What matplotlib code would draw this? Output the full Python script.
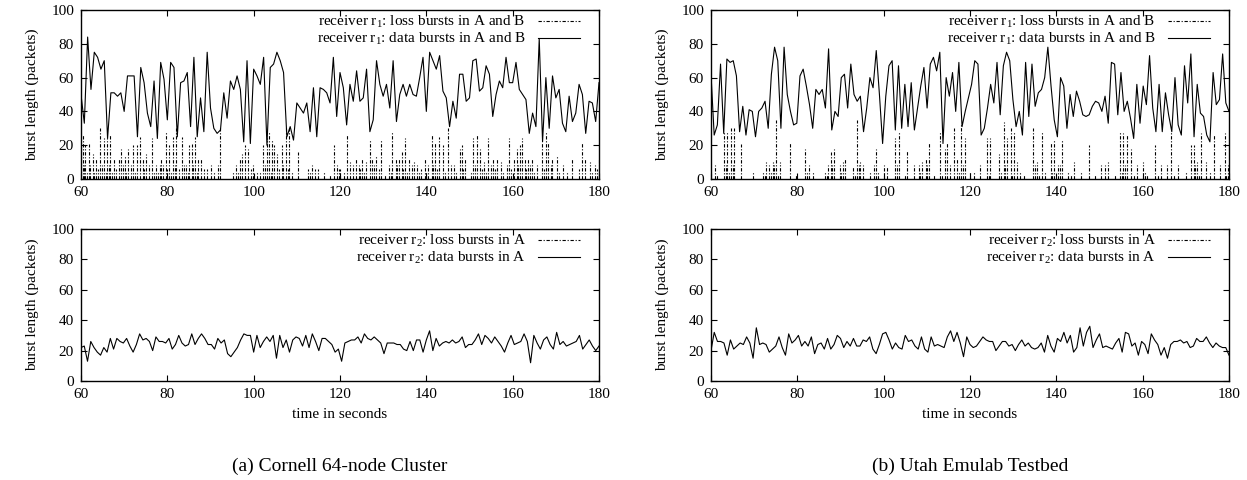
import matplotlib
matplotlib.use('Agg')
import matplotlib.pyplot as plt
import numpy as np
from matplotlib.lines import Line2D

plt.rcParams['font.family'] = ['Liberation Serif', 'DejaVu Serif']
plt.rcParams['mathtext.fontset'] = 'custom'
plt.rcParams['mathtext.rm'] = 'Liberation Serif'
plt.rcParams['mathtext.it'] = 'Liberation Serif:italic'

# ---------------- data ----------------
T_START, T_END = 60, 180

# (a) Cornell, receiver r1 data bursts (A and B)
cornell_r1_data = [
    50, 33, 84, 53, 75, 72, 65, 70, 24, 51, 51, 49, 51, 40, 61, 61, 61, 25, 66, 57,
    39, 31, 58, 24, 69, 59, 35, 69, 66, 25, 57, 58, 63, 31, 72, 25, 48, 28, 75, 42,
    30, 27, 29, 51, 36, 58, 53, 61, 53, 22, 70, 21, 65, 61, 56, 72, 20, 66, 68, 75,
    70, 63, 25, 31, 23, 45, 42, 39, 45, 28, 54, 25, 54, 53, 51, 45, 72, 37, 63, 54,
    32, 56, 46, 64, 46, 48, 65, 28, 35, 70, 56, 49, 56, 42, 70, 34, 50, 56, 49,
    56, 50, 49, 60, 72, 40, 75, 70, 65, 73, 52, 48, 31, 46, 36, 62, 62, 46, 48, 70,
    71, 52, 54, 67, 62, 37, 50, 58, 54, 72, 57, 57, 69, 53, 50, 47, 27, 39, 31, 83,
    22, 60, 30, 61, 48, 53, 33, 28, 49, 34, 39, 56, 50, 27, 46, 45, 34, 57]

# (a) Cornell, receiver r1 loss bursts (time, length)
cornell_r1_loss_t = [
    60.4, 61.0, 61.8, 62.7, 63.5, 64.5, 65.3, 66.0, 66.8, 67.6, 68.7, 69.3, 70.1, 70.9,
    72.0, 73.0, 73.6, 74.3, 75.1, 76.5, 77.4, 78.2, 78.6, 79.6, 80.4, 81.2, 82.1, 83.3,
    84.4, 85.0, 85.7, 86.4, 87.1, 87.8, 89.2, 90.2, 91.8, 92.2, 95.3, 96.0, 96.8, 97.4,
    98.0, 98.8, 99.9, 100.7, 102.2, 103.0, 103.5, 104.2, 104.6, 105.3, 106.5, 107.5,
    108.3, 110.2, 112.7, 113.5, 114.3, 115.0, 116.2, 118.5, 119.3, 120.0, 121.6, 122.4,
    123.6, 124.3, 125.1, 126.1, 126.9, 127.4, 128.4, 129.4, 131.3, 132.1, 132.9, 133.6,
    134.4, 135.0, 136.0, 137.1, 137.9, 138.8, 139.6, 140.4, 141.2, 142.0, 143.0, 143.8,
    145.1, 146.3, 147.7, 148.2, 149.0, 150.9, 151.7, 152.4, 153.4, 154.4, 155.4, 156.3,
    157.3, 159.2, 160.2, 160.9, 161.6, 162.1, 162.9, 163.6, 164.4, 165.6, 166.7, 167.7,
    168.3, 169.1, 170.2, 171.6, 173.7, 176.0, 176.8, 177.9, 179.1, 179.9,
    60.7, 61.4, 62.2, 63.1, 64.0, 64.9, 65.7, 66.4, 67.2, 68.2, 69.7, 70.5, 71.5, 72.5,
    74.7, 75.8, 76.9, 77.8, 79.1, 80.0, 80.8, 81.7, 82.6, 83.8, 84.7, 86.0, 86.8, 88.5,
    90.8, 96.4, 97.9, 99.3, 101.4, 102.6, 104.0, 105.8, 106.9, 107.9, 108.8, 113.1,
    117.6, 119.7, 121.0, 122.9, 124.7, 125.6, 127.9, 129.0, 130.4, 131.8, 133.2, 134.7,
    135.5, 136.6, 138.3, 140.0, 141.6, 142.5, 144.3, 145.6, 146.8, 148.6, 150.3, 151.3,
    152.9, 153.9, 154.9, 155.9, 157.8, 158.6, 159.7, 161.2, 163.2, 164.0, 165.0, 167.2,
    168.8, 170.8, 172.6, 175.3, 178.4, 179.5]
cornell_r1_loss_len = [
    26, 20, 21, 15, 12, 30, 24, 24, 26, 12, 12, 18, 14, 18,
    20, 20, 25, 12, 15, 24, 8, 8, 12, 28, 20, 25, 30, 25,
    8, 20, 21, 25, 12, 12, 6, 8, 8, 30, 4, 8, 12, 15,
    20, 18, 8, 5, 20, 24, 28, 23, 20, 15, 20, 30,
    30, 16, 6, 8, 6, 6, 5, 20, 8, 6, 26, 10,
    12, 8, 12, 10, 23, 12, 14, 23, 8, 28, 12, 12,
    16, 24, 12, 10, 8, 6, 12, 8, 26, 22, 25, 20,
    30, 8, 18, 20, 12, 24, 26, 18, 10, 24, 12, 12,
    10, 24, 12, 18, 20, 24, 12, 12, 12, 8, 22, 28,
    22, 12, 14, 8, 12, 22, 12, 10, 8, 12,
    8, 5, 8, 4, 6, 8, 5, 8, 4, 6, 8, 5, 8, 4,
    6, 8, 5, 4, 8, 6, 5, 8, 6, 8, 5, 8, 4, 6,
    4, 5, 3, 6, 4, 8, 5, 6, 8, 6, 5, 4,
    3, 6, 4, 8, 6, 5, 8, 6, 3, 5, 8, 6,
    5, 8, 4, 5, 8, 6, 4, 8, 4, 6, 4, 8,
    6, 5, 8, 6, 4, 8, 6, 8, 6, 8, 5, 6,
    8, 5, 4, 6, 5, 6]

# (a) Cornell, receiver r2 data bursts (A)
cornell_r2_data = [
    22, 23, 13, 26, 22, 19, 17, 22, 19, 28, 21, 28, 26, 25, 28, 23, 19, 24, 31, 27,
    28, 26, 20, 29, 26, 26, 25, 28, 21, 24, 30, 25, 23, 24, 31, 24, 28, 31, 28, 24,
    24, 21, 28, 25, 27, 18, 16, 19, 22, 27, 31, 30, 30, 19, 30, 22, 26, 29, 26, 30,
    15, 30, 22, 27, 19, 27, 29, 28, 23, 30, 22, 31, 26, 20, 28, 28, 26, 24, 19, 21,
    13, 25, 26, 27, 27, 29, 25, 31, 28, 27, 29, 27, 25, 18, 25, 25, 25, 24, 24, 21,
    20, 26, 20, 27, 27, 19, 27, 33, 20, 28, 23, 25, 26, 25, 27, 25, 26, 29, 22, 24,
    24, 27, 31, 24, 30, 28, 25, 29, 26, 23, 19, 25, 30, 24, 25, 26, 31, 26, 12, 30,
    25, 21, 27, 29, 24, 21, 32, 24, 26, 23, 24, 25, 26, 30, 21, 24, 27, 23, 20, 23]

# (b) Utah, receiver r1 data bursts (A and B)
utah_r1_data = [
    62, 26, 32, 68, 27, 71, 69, 70, 61, 28, 43, 26, 41, 40, 25, 40, 42, 46, 30, 62,
    78, 70, 30, 78, 50, 40, 32, 33, 61, 65, 55, 44, 30, 53, 50, 53, 42, 77, 29, 40,
    37, 60, 62, 42, 68, 50, 46, 49, 28, 42, 60, 54, 76, 50, 21, 49, 67, 70, 29, 67,
    30, 56, 31, 57, 29, 42, 55, 66, 42, 68, 72, 64, 75, 21, 60, 49, 63, 40, 69, 31,
    40, 48, 56, 70, 68, 26, 30, 42, 56, 45, 69, 38, 67, 75, 70, 47, 31, 40, 26, 69,
    37, 68, 43, 51, 53, 60, 78, 55, 35, 25, 60, 55, 30, 50, 37, 52, 46, 38, 37, 38,
    43, 46, 45, 40, 49, 33, 69, 68, 38, 63, 40, 46, 36, 24, 56, 33, 55, 44, 73, 42,
    28, 56, 28, 51, 38, 28, 60, 32, 26, 67, 45, 74, 25, 56, 39, 37, 26, 22, 63, 44,
    47, 74, 45, 40]

# (b) Utah, receiver r1 loss bursts (time, length)
utah_r1_loss_t = [
    60.9, 63.0, 63.8, 64.6, 65.3, 67.0, 69.8, 72.1, 72.8, 73.5, 74.3, 75.1, 76.0, 78.3,
    79.7, 81.8, 82.6, 83.6, 86.4, 87.1, 87.8, 88.4, 89.9, 90.5, 91.1, 93.0, 93.8, 94.6,
    95.2, 96.9, 97.7, 98.2, 100.0, 100.8, 102.7, 103.5, 105.4, 107.0, 108.1, 108.9,
    109.7, 110.4, 111.6, 113.1, 114.1, 114.7, 116.2, 117.0, 117.8, 118.9, 120.1, 120.9,
    122.3, 124.0, 124.7, 126.7, 127.8, 128.6, 129.4, 130.1, 130.9, 132.5, 134.6, 135.6,
    136.6, 137.3, 138.7, 139.4, 140.4, 141.2, 142.6, 144.1, 147.6, 150.3, 152.0, 154.7,
    155.5, 156.3, 157.4, 158.8, 160.0, 161.1, 162.8, 164.2, 166.5, 168.1, 171.2, 171.8,
    172.7, 173.5, 174.7, 176.6, 179.1, 179.7,
    61.3, 63.4, 64.2, 65.0, 72.5, 73.9, 74.7, 75.6, 82.2, 86.8, 88.1, 90.2, 93.4, 94.2,
    98.6, 103.1, 104.9, 108.5, 110.0, 113.6, 115.4, 117.4, 118.3, 124.4, 127.2, 128.2,
    129.8, 131.5, 135.1, 136.1, 139.0, 140.8, 143.4, 145.8, 148.9, 151.2, 153.6, 155.1,
    155.9, 157.9, 160.6, 163.5, 165.7, 167.3, 170.0, 172.2, 173.1, 175.6, 177.8, 179.4]
utah_r1_loss_len = [
    8, 28, 28, 30, 30, 21, 4, 5, 10, 8, 10, 35, 10, 22,
    3, 18, 8, 4, 5, 8, 16, 18, 8, 10, 12, 7, 35, 10,
    8, 4, 8, 18, 8, 7, 24, 28, 17, 8, 8, 10,
    12, 22, 3, 28, 18, 22, 30, 12, 33, 24, 5, 5,
    8, 24, 24, 15, 34, 24, 30, 28, 10, 3, 30, 10,
    28, 5, 22, 23, 8, 23, 4, 10, 20, 8, 10, 28,
    27, 26, 18, 8, 10, 3, 20, 8, 28, 8, 20, 20,
    10, 27, 10, 26, 27, 8,
    3, 8, 5, 8, 3, 5, 8, 3, 4, 3, 8, 5, 3, 8,
    5, 8, 3, 5, 8, 3, 8, 5, 8, 3, 5, 8,
    3, 5, 8, 3, 5, 8, 3, 5, 3, 8, 3, 5,
    8, 3, 5, 3, 8, 3, 5, 8, 3, 5, 8, 3]

# (b) Utah, receiver r2 data bursts (A)
utah_r2_data = [
    20, 32, 26, 26, 25, 17, 27, 21, 23, 25, 24, 29, 25, 15, 35, 24, 25, 24, 19, 21,
    23, 29, 22, 17, 31, 25, 27, 30, 23, 26, 23, 29, 18, 24, 25, 21, 28, 21, 24, 30,
    28, 22, 26, 23, 28, 23, 23, 27, 26, 29, 21, 18, 24, 31, 32, 27, 21, 25, 22, 21,
    30, 26, 27, 23, 21, 29, 21, 19, 29, 23, 24, 23, 22, 29, 33, 26, 32, 25, 16, 29,
    24, 22, 23, 26, 29, 27, 26, 26, 20, 23, 26, 26, 23, 24, 20, 24, 27, 23, 25, 22,
    21, 22, 25, 19, 30, 23, 19, 28, 26, 32, 25, 30, 19, 22, 35, 23, 32, 36, 22, 27,
    31, 22, 23, 22, 21, 25, 28, 19, 32, 31, 23, 25, 17, 26, 24, 18, 31, 27, 24, 17,
    22, 15, 24, 26, 26, 27, 25, 26, 22, 23, 28, 26, 26, 29, 25, 22, 25, 23, 22, 22,
    17]

labels_r1 = ['receiver r$_{\\mathrm{1}}$: loss bursts in A and B',
             'receiver r$_{\\mathrm{1}}$: data bursts in A and B']
labels_r2 = ['receiver r$_{\\mathrm{2}}$: loss bursts in A',
             'receiver r$_{\\mathrm{2}}$: data bursts in A']
captions = ['(a) Cornell 64-node Cluster', '(b) Utah Emulab Testbed']
y_label = 'burst length (packets)'
x_label = 'time in seconds'
x_ticks = [60, 80, 100, 120, 140, 160, 180]
y_ticks = [0, 20, 40, 60, 80, 100]

# ---------------- drawing ----------------
W, H = 1247, 480
fig = plt.figure(figsize=(W / 100, H / 100), dpi=100)

FS = 11
DASHDOT = (0, (3.0, 1.6, 1.0, 1.6))
LW = 0.8
AX_W = 518


def make_ax(x0, y_top, y_bot):
    ax = fig.add_axes([x0 / W, (H - y_bot) / H, AX_W / W, (y_bot - y_top) / H])
    ax.set_xlim(T_START, T_END)
    ax.set_ylim(0, 100)
    ax.set_xticks(x_ticks)
    ax.set_yticks(y_ticks)
    ax.tick_params(direction='in', length=4, width=0.8, top=True, right=True,
                   labelsize=FS, pad=5)
    for s in ax.spines.values():
        s.set_linewidth(1.0)
    ax.set_ylabel(y_label, fontsize=FS, labelpad=9)
    return ax


def legend(ax, labels, height):
    handles = [Line2D([], [], color='k', lw=LW, linestyle=DASHDOT),
               Line2D([], [], color='k', lw=LW)]
    ax.legend(handles, labels, loc='upper right', frameon=False, markerfirst=False,
              fontsize=FS, handlelength=2.75, handletextpad=0.8, labelspacing=0.05,
              borderaxespad=0.0, borderpad=0.0,
              bbox_to_anchor=(1 - 19 / AX_W, 1 - 4 / height))


panels = [
    (81, cornell_r1_data, cornell_r1_loss_t, cornell_r1_loss_len, cornell_r2_data),
    (711, utah_r1_data, utah_r1_loss_t, utah_r1_loss_len, utah_r2_data),
]

for i, (x0, r1_data, loss_t, loss_len, r2_data) in enumerate(panels):
    ax1 = make_ax(x0, 10, 179)
    t1 = np.linspace(T_START, T_END, len(r1_data))
    ax1.vlines(loss_t, 0, loss_len, colors='k', linewidth=LW, linestyles=DASHDOT)
    ax1.plot(t1, r1_data, color='k', lw=LW)
    legend(ax1, labels_r1, 169)

    ax2 = make_ax(x0, 229, 381)
    t2 = np.linspace(T_START, T_END, len(r2_data))
    ax2.plot(t2, r2_data, color='k', lw=LW)
    ax2.set_xlabel(x_label, fontsize=FS, labelpad=5)
    legend(ax2, labels_r2, 152)

    fig.text((x0 + AX_W / 2) / W, 1 - 466 / H, captions[i], ha='center',
             va='center', fontsize=14)

fig.savefig('out.png', dpi=100)
